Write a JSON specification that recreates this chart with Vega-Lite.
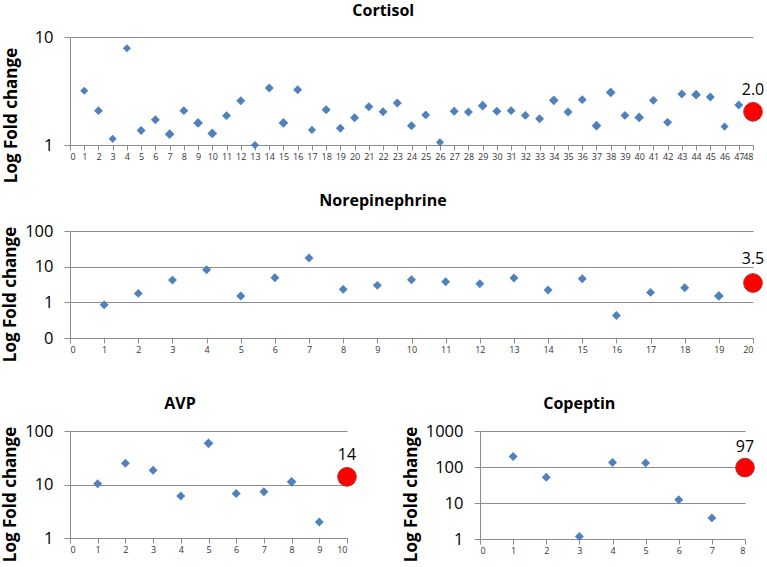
{
  "$schema": "https://vega.github.io/schema/vega-lite/v6.json",
  "padding": {"left": 1, "top": 3, "right": 2, "bottom": 0},
  "background": "white",
  "config": {
    "view": {"stroke": null},
    "font": "Open Sans",
    "title": {"font": "Open Sans", "fontSize": 16, "fontWeight": "bold", "color": "#000000", "frame": "bounds", "anchor": "middle"},
    "axis": {"domainColor": "#8c8c8c", "tickColor": "#8c8c8c", "gridColor": "#8c8c8c", "labelFont": "Open Sans", "titleFont": "Open Sans", "labelColor": "#000000", "titleColor": "#000000"},
    "axisY": {"labelFontSize": 16.5, "labelPadding": 11, "tickSize": 6, "titleFontSize": 17, "titleFontWeight": "bold", "titlePadding": 5, "grid": true},
    "axisX": {"labelFontSize": 9, "tickSize": 5, "labelPadding": 2, "labelColor": "#333333", "grid": false, "labelOverlap": false}
  },
  "datasets": {
    "cortisol": [
      {"x": 1, "value": 3.18, "n": 1, "kind": "sample"},
      {"x": 2, "value": 2.08, "n": 2, "kind": "sample"},
      {"x": 3, "value": 1.14, "n": 1, "kind": "sample"},
      {"x": 4, "value": 7.86, "n": 1, "kind": "sample"},
      {"x": 5, "value": 1.36, "n": 2, "kind": "sample"},
      {"x": 6, "value": 1.71, "n": 2, "kind": "sample"},
      {"x": 7, "value": 1.26, "n": 3, "kind": "sample"},
      {"x": 8, "value": 2.08, "n": 2, "kind": "sample"},
      {"x": 9, "value": 1.6, "n": 3, "kind": "sample"},
      {"x": 10, "value": 1.28, "n": 3, "kind": "sample"},
      {"x": 11, "value": 1.87, "n": 2, "kind": "sample"},
      {"x": 12, "value": 2.57, "n": 2, "kind": "sample"},
      {"x": 13, "value": 1.0, "n": 1, "kind": "sample"},
      {"x": 14, "value": 3.37, "n": 2, "kind": "sample"},
      {"x": 15, "value": 1.6, "n": 3, "kind": "sample"},
      {"x": 16, "value": 3.25, "n": 2, "kind": "sample"},
      {"x": 17, "value": 1.38, "n": 1, "kind": "sample"},
      {"x": 18, "value": 2.12, "n": 2, "kind": "sample"},
      {"x": 19, "value": 1.43, "n": 2, "kind": "sample"},
      {"x": 20, "value": 1.79, "n": 2, "kind": "sample"},
      {"x": 21, "value": 2.26, "n": 2, "kind": "sample"},
      {"x": 22, "value": 2.03, "n": 2, "kind": "sample"},
      {"x": 23, "value": 2.45, "n": 2, "kind": "sample"},
      {"x": 24, "value": 1.51, "n": 2, "kind": "sample"},
      {"x": 25, "value": 1.9, "n": 2, "kind": "sample"},
      {"x": 26, "value": 1.06, "n": 1, "kind": "sample"},
      {"x": 27, "value": 2.05, "n": 2, "kind": "sample"},
      {"x": 28, "value": 2.02, "n": 2, "kind": "sample"},
      {"x": 29, "value": 2.31, "n": 3, "kind": "sample"},
      {"x": 30, "value": 2.05, "n": 2, "kind": "sample"},
      {"x": 31, "value": 2.08, "n": 2, "kind": "sample"},
      {"x": 32, "value": 1.88, "n": 2, "kind": "sample"},
      {"x": 33, "value": 1.75, "n": 2, "kind": "sample"},
      {"x": 34, "value": 2.59, "n": 3, "kind": "sample"},
      {"x": 35, "value": 2.02, "n": 2, "kind": "sample"},
      {"x": 36, "value": 2.63, "n": 2, "kind": "sample"},
      {"x": 37, "value": 1.51, "n": 3, "kind": "sample"},
      {"x": 38, "value": 3.07, "n": 3, "kind": "sample"},
      {"x": 39, "value": 1.88, "n": 2, "kind": "sample"},
      {"x": 40, "value": 1.8, "n": 3, "kind": "sample"},
      {"x": 41, "value": 2.59, "n": 2, "kind": "sample"},
      {"x": 42, "value": 1.62, "n": 2, "kind": "sample"},
      {"x": 43, "value": 2.97, "n": 2, "kind": "sample"},
      {"x": 44, "value": 2.92, "n": 3, "kind": "sample"},
      {"x": 45, "value": 2.78, "n": 2, "kind": "sample"},
      {"x": 46, "value": 1.48, "n": 1, "kind": "sample"},
      {"x": 47, "value": 2.35, "n": 2, "kind": "sample"},
      {"x": 48, "value": 2.03, "n": 3, "kind": "index", "label": "2.0"}
    ],
    "norepinephrine": [
      {"x": 1, "value": 0.85, "n": 2, "kind": "sample"},
      {"x": 2, "value": 1.78, "n": 2, "kind": "sample"},
      {"x": 3, "value": 4.2, "n": 2, "kind": "sample"},
      {"x": 4, "value": 8.2, "n": 2, "kind": "sample"},
      {"x": 5, "value": 1.51, "n": 2, "kind": "sample"},
      {"x": 6, "value": 4.9, "n": 2, "kind": "sample"},
      {"x": 7, "value": 17.4, "n": 2, "kind": "sample"},
      {"x": 8, "value": 2.31, "n": 2, "kind": "sample"},
      {"x": 9, "value": 2.99, "n": 2, "kind": "sample"},
      {"x": 10, "value": 4.3, "n": 2, "kind": "sample"},
      {"x": 11, "value": 3.8, "n": 2, "kind": "sample"},
      {"x": 12, "value": 3.3, "n": 2, "kind": "sample"},
      {"x": 13, "value": 4.8, "n": 2, "kind": "sample"},
      {"x": 14, "value": 2.22, "n": 2, "kind": "sample"},
      {"x": 15, "value": 4.6, "n": 2, "kind": "sample"},
      {"x": 16, "value": 0.43, "n": 2, "kind": "sample"},
      {"x": 17, "value": 1.9, "n": 2, "kind": "sample"},
      {"x": 18, "value": 2.57, "n": 2, "kind": "sample"},
      {"x": 19, "value": 1.51, "n": 3, "kind": "sample"},
      {"x": 20, "value": 3.48, "n": 3, "kind": "index", "label": "3.5"}
    ],
    "avp": [
      {"x": 1, "value": 10.3, "n": 2, "kind": "sample"},
      {"x": 2, "value": 24.9, "n": 2, "kind": "sample"},
      {"x": 3, "value": 18.5, "n": 2, "kind": "sample"},
      {"x": 4, "value": 6.1, "n": 2, "kind": "sample"},
      {"x": 5, "value": 58.8, "n": 3, "kind": "sample"},
      {"x": 6, "value": 6.8, "n": 2, "kind": "sample"},
      {"x": 7, "value": 7.3, "n": 2, "kind": "sample"},
      {"x": 8, "value": 11.2, "n": 3, "kind": "sample"},
      {"x": 9, "value": 1.99, "n": 2, "kind": "sample"},
      {"x": 10, "value": 13.9, "n": 3, "kind": "index", "label": "14"}
    ],
    "copeptin": [
      {"x": 1, "value": 195, "n": 2, "kind": "sample"},
      {"x": 2, "value": 52, "n": 2, "kind": "sample"},
      {"x": 3, "value": 1.17, "n": 2, "kind": "sample"},
      {"x": 4, "value": 133, "n": 2, "kind": "sample"},
      {"x": 5, "value": 130, "n": 2, "kind": "sample"},
      {"x": 6, "value": 12.3, "n": 2, "kind": "sample"},
      {"x": 7, "value": 3.86, "n": 2, "kind": "sample"},
      {"x": 8, "value": 96, "n": 3, "kind": "index", "label": "97"}
    ]
  },
  "columns": 1,
  "align": "none",
  "spacing": 34,
  "concat": [
    {
      "columns": 1,
      "align": "none",
      "spacing": 10,
      "concat": [
        {
          "title": {"text": "Cortisol", "offset": 10},
          "width": 683,
          "height": 108,
          "data": {"name": "cortisol"},
          "encoding": {
            "x": {"field": "x", "type": "quantitative", "scale": {"domain": [0, 48], "nice": false, "zero": false}, "axis": {"title": null, "values": [0,1,2,3,4,5,6,7,8,9,10,11,12,13,14,15,16,17,18,19,20,21,22,23,24,25,26,27,28,29,30,31,32,33,34,35,36,37,38,39,40,41,42,43,44,45,46,47,48]}},
            "y": {"field": "value", "type": "quantitative", "scale": {"type": "log", "domain": [1, 10], "nice": false}, "axis": {"title": "Log Fold change", "values": [1, 10], "format": "d", "titleY": 78, "titlePadding": 14}}
          },
          "layer": [
            {"transform": [{"filter": "datum.kind == 'sample'"}], "mark": {"type": "point", "shape": "diamond", "filled": true, "color": "#4F81BD", "opacity": 1}, "encoding": {"size": {"field": "n", "type": "ordinal", "scale": {"domain": [1, 2, 3], "range": [65, 95, 160]}, "legend": null}}},
            {"transform": [{"filter": "datum.kind == 'index'"}], "mark": {"type": "circle", "color": "#FF0000", "size": 350, "opacity": 1, "stroke": "#B03030", "strokeWidth": 1}},
            {"transform": [{"filter": "datum.kind == 'index'"}], "mark": {"type": "text", "dy": -22, "fontSize": 16, "font": "Open Sans", "color": "#000000", "baseline": "middle"}, "encoding": {"text": {"field": "label"}}}
          ]
        },
        {
          "title": {"text": "Norepinephrine", "offset": 14},
          "width": 683,
          "height": 107,
          "data": {"name": "norepinephrine"},
          "encoding": {
            "x": {"field": "x", "type": "quantitative", "scale": {"domain": [0, 20], "nice": false, "zero": false}, "axis": {"title": null, "values": [0,1,2,3,4,5,6,7,8,9,10,11,12,13,14,15,16,17,18,19,20]}},
            "y": {"field": "value", "type": "quantitative", "scale": {"type": "log", "domain": [0.1, 100], "nice": false}, "axis": {"title": "Log Fold change", "values": [0.1, 1, 10, 100], "format": "d", "titleY": 63}}
          },
          "layer": [
            {"transform": [{"filter": "datum.kind == 'sample'"}], "mark": {"type": "point", "shape": "diamond", "filled": true, "color": "#4F81BD", "opacity": 1}, "encoding": {"size": {"field": "n", "type": "ordinal", "scale": {"domain": [1, 2, 3], "range": [65, 95, 160]}, "legend": null}}},
            {"transform": [{"filter": "datum.kind == 'index'"}], "mark": {"type": "circle", "color": "#FF0000", "size": 350, "opacity": 1, "stroke": "#B03030", "strokeWidth": 1}},
            {"transform": [{"filter": "datum.kind == 'index'"}], "mark": {"type": "text", "dy": -24, "fontSize": 16, "font": "Open Sans", "color": "#000000", "baseline": "middle"}, "encoding": {"text": {"field": "label"}}}
          ]
        }
      ]
    },
    {
      "spacing": 43,
      "hconcat": [
        {
          "title": {"text": "AVP", "offset": 11},
          "width": 277,
          "height": 107,
          "data": {"name": "avp"},
          "encoding": {
            "x": {"field": "x", "type": "quantitative", "scale": {"domain": [0, 10], "nice": false, "zero": false}, "axis": {"title": null, "values": [0,1,2,3,4,5,6,7,8,9,10]}},
            "y": {"field": "value", "type": "quantitative", "scale": {"type": "log", "domain": [1, 100], "nice": false}, "axis": {"title": "Log Fold change", "values": [1, 10, 100], "format": "d", "titleY": 63}}
          },
          "layer": [
            {"transform": [{"filter": "datum.kind == 'sample'"}], "mark": {"type": "point", "shape": "diamond", "filled": true, "color": "#4F81BD", "opacity": 1}, "encoding": {"size": {"field": "n", "type": "ordinal", "scale": {"domain": [1, 2, 3], "range": [65, 95, 160]}, "legend": null}}},
            {"transform": [{"filter": "datum.kind == 'index'"}], "mark": {"type": "circle", "color": "#FF0000", "size": 350, "opacity": 1, "stroke": "#B03030", "strokeWidth": 1}},
            {"transform": [{"filter": "datum.kind == 'index'"}], "mark": {"type": "text", "dy": -22, "fontSize": 16, "font": "Open Sans", "color": "#000000", "baseline": "middle"}, "encoding": {"text": {"field": "label"}}}
          ]
        },
        {
          "title": {"text": "Copeptin", "offset": 11},
          "width": 265,
          "height": 108,
          "data": {"name": "copeptin"},
          "encoding": {
            "x": {"field": "x", "type": "quantitative", "scale": {"domain": [0, 8], "nice": false, "zero": false}, "axis": {"title": null, "values": [0,1,2,3,4,5,6,7,8]}},
            "y": {"field": "value", "type": "quantitative", "scale": {"type": "log", "domain": [1, 1000], "nice": false}, "axis": {"title": "Log Fold change", "values": [1, 10, 100, 1000], "format": "d", "titleY": 63}}
          },
          "layer": [
            {"transform": [{"filter": "datum.kind == 'sample'"}], "mark": {"type": "point", "shape": "diamond", "filled": true, "color": "#4F81BD", "opacity": 1}, "encoding": {"size": {"field": "n", "type": "ordinal", "scale": {"domain": [1, 2, 3], "range": [65, 95, 160]}, "legend": null}}},
            {"transform": [{"filter": "datum.kind == 'index'"}], "mark": {"type": "circle", "color": "#FF0000", "size": 350, "opacity": 1, "stroke": "#B03030", "strokeWidth": 1}},
            {"transform": [{"filter": "datum.kind == 'index'"}], "mark": {"type": "text", "dy": -21, "fontSize": 16, "font": "Open Sans", "color": "#000000", "baseline": "middle"}, "encoding": {"text": {"field": "label"}}}
          ]
        }
      ]
    }
  ]
}
